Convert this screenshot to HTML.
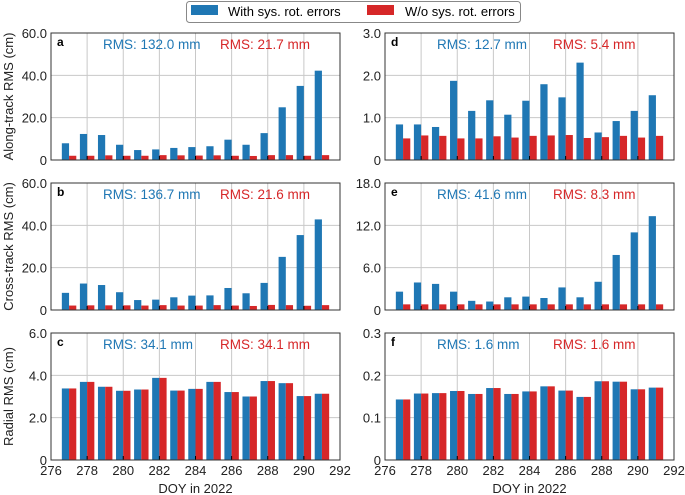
<!DOCTYPE html>
<html><head><meta charset="utf-8"><style>
body{margin:0;background:#fff}
svg{display:block;font-family:"Liberation Sans",sans-serif}
</style></head><body>
<svg id="chart" width="685" height="495" viewBox="0 0 685 495" xmlns="http://www.w3.org/2000/svg">
<g>
<rect x="186.5" y="1.5" width="334" height="21" rx="3" fill="#fff" stroke="#888"/>
<rect x="191" y="5" width="27" height="10" fill="#1f77b4"/>
<text x="228" y="16" font-size="13">With sys. rot. errors</text>
<rect x="367" y="5" width="27" height="10" fill="#d62728"/>
<text x="405" y="16" font-size="13">W/o sys. rot. errors</text>
</g>
</svg>
<script>
const days=[277,278,279,280,281,282,283,284,285,286,287,288,289,290,291];
const xTicks=[276,278,280,282,284,286,288,290,292];
const aBlue=[7.9,12.3,11.8,7.2,4.7,5.0,5.7,6.1,6.5,9.6,7.2,12.7,24.9,35.0,42.2];
const aRed=[2.0,2.0,2.2,2.0,2.0,2.3,2.2,2.1,2.2,2.0,1.9,2.3,2.3,2.0,2.3];
const bBlue=[8.1,12.5,11.8,8.4,4.7,4.9,6.0,6.8,6.9,10.4,7.9,12.8,25.1,35.4,42.8];
const bRed=[2.1,2.2,2.2,2.2,2.1,2.3,2.1,2.1,2.3,2.1,1.9,2.4,2.3,2.0,2.3];
const cBlue=[3.38,3.69,3.46,3.27,3.33,3.88,3.28,3.36,3.69,3.21,3.0,3.73,3.63,3.02,3.13];
const cRed=[3.38,3.69,3.46,3.27,3.33,3.88,3.28,3.36,3.69,3.21,3.0,3.73,3.63,3.02,3.13];
const dBlue=[0.84,0.84,0.78,1.87,1.16,1.41,1.07,1.40,1.79,1.48,2.30,0.65,0.92,1.16,1.53];
const dRed=[0.51,0.58,0.57,0.51,0.51,0.56,0.53,0.57,0.58,0.59,0.52,0.54,0.57,0.53,0.57];
const eBlue=[2.6,3.9,3.7,2.6,1.3,1.2,1.8,1.9,1.7,3.2,1.8,4.0,7.8,11.0,13.3];
const eRed=[0.8,0.8,0.8,0.8,0.8,0.8,0.8,0.8,0.8,0.8,0.8,0.8,0.8,0.8,0.8];
const fBlue=[0.143,0.157,0.158,0.163,0.156,0.170,0.156,0.162,0.174,0.164,0.149,0.186,0.185,0.167,0.171];
const fRed=[0.143,0.157,0.158,0.163,0.156,0.170,0.156,0.162,0.174,0.164,0.149,0.186,0.185,0.167,0.171];
const yTicksA=["0","20.0","40.0","60.0"], yTicksB=["0","20.0","40.0","60.0"], yTicksC=["0","2.0","4.0","6.0"];
const yTicksD=["0","1.0","2.0","3.0"], yTicksE=["0","6.0","12.0","18.0"], yTicksF=["0","0.1","0.2","0.3"];
const yMax=[60,60,6,3,18,0.3];
const letters=["a","b","c","d","e","f"];
const rmsBlue=["132.0","136.7","34.1","12.7","41.6","1.6"];
const rmsRed=["21.7","21.6","34.1","5.4","8.3","1.6"];

const NS="http://www.w3.org/2000/svg";
const svg=document.getElementById('chart');
function mk(tag,attrs,parent){const e=document.createElementNS(NS,tag);for(const k in attrs)e.setAttribute(k,attrs[k]);(parent||svg).appendChild(e);return e;}
const blues=[aBlue,bBlue,cBlue,dBlue,eBlue,fBlue], reds=[aRed,bRed,cRed,dRed,eRed,fRed];
const yts=[yTicksA,yTicksB,yTicksC,yTicksD,yTicksE,yTicksF];
const ylabels=["Along-track RMS (cm)","Cross-track RMS (cm)","Radial RMS (cm)"];
const tops=[33,183,333];
for(let p=0;p<6;p++){
  const col=p<3?0:1,row=p%3;
  const L=col?385:51,R=col?674:340,T=tops[row],B=T+127;
  const g=mk('g',{});
  
  
  const x=d=>L+(d-276)/16*(R-L);
  const y=v=>B-v/yMax[p]*(B-T);
  // grid
  xTicks.forEach(t=>{const l=mk('line',{x1:x(t),x2:x(t),y1:T,y2:B,stroke:'#c8c8c8','stroke-width':1},g);
    });
  yts[p].forEach((t,i)=>{const v=i*yMax[p]/(yts[p].length-1);
    const l=mk('line',{x1:L,x2:R,y1:y(v),y2:y(v),stroke:'#c8c8c8','stroke-width':1},g);
    
    const tx=mk('text',{x:L-4,y:y(v)+5,'font-size':13,'text-anchor':'end',fill:'#222'},g);tx.textContent=t;
    });
  const bw=0.4/16*(R-L);
  days.forEach((d,i)=>{
    const b=mk('rect',{x:x(d)-bw,y:y(blues[p][i]),width:bw,height:B-y(blues[p][i]),fill:'#1f77b4'},g);
    
    const r=mk('rect',{x:x(d),y:y(reds[p][i]),width:bw,height:B-y(reds[p][i]),fill:'#d62728'},g);
    
  });
  xTicks.forEach(t=>{const l=mk('line',{x1:x(t),x2:x(t),y1:B-4,y2:B,stroke:'#000','stroke-width':1},g);
    });
  const fr=mk('rect',{x:L,y:T,width:R-L,height:B-T,fill:'none',stroke:'#333','stroke-width':1},g);
  
  const lt=mk('text',{x:L+6,y:T+13,'font-size':12,'font-weight':'bold'},g);lt.textContent=letters[p];
  
  const rb=mk('text',{x:col?437:103,y:T+16,'font-size':13.5,fill:'#1f77b4'},g);rb.textContent='RMS: '+rmsBlue[p]+' mm';
  
  const rr=mk('text',{x:col?553:220,y:T+16,'font-size':13.5,fill:'#d62728'},g);rr.textContent='RMS: '+rmsRed[p]+' mm';
  
  if(row==2){
    xTicks.forEach(t=>{const tx=mk('text',{x:x(t),y:B+15,'font-size':13,'text-anchor':'middle',fill:'#222'},g);tx.textContent=t;
      });
    const xt=mk('text',{x:(L+R)/2,y:B+33,'font-size':13,'text-anchor':'middle',fill:'#222'},g);xt.textContent='DOY in 2022';
    
  }
  if(col==0){
    const cy=(T+B)/2;
    const yt=mk('text',{x:0,y:0,'font-size':13,'text-anchor':'middle',fill:'#222',transform:`translate(13,${cy}) rotate(-90)`},g);
    yt.textContent=ylabels[row];
    
  }
}
</script>
</body></html>
